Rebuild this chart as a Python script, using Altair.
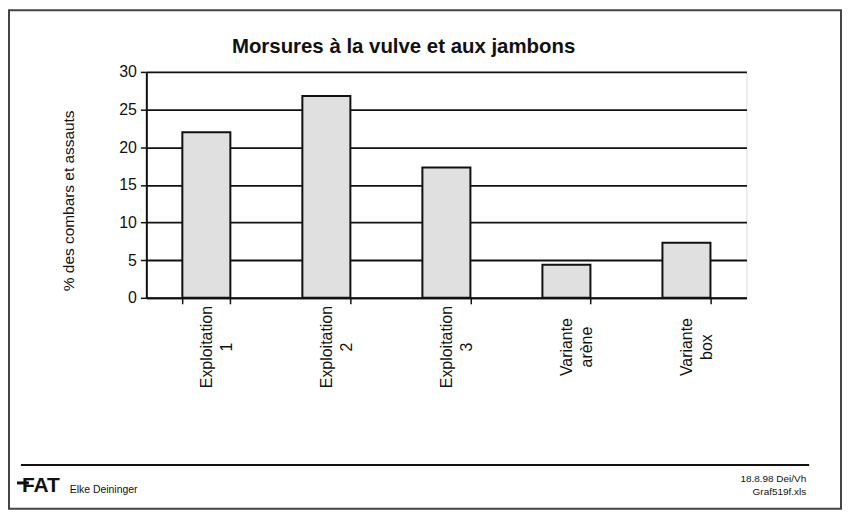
import altair as alt
import pandas as pd

categories = ["Exploitation\n1", "Exploitation\n2", "Exploitation\n3", "Variante\narène", "Variante\nbox"]
values = [22.0, 26.8, 17.3, 4.4, 7.3]
y_ticks = [0, 5, 10, 15, 20, 25, 30]

title_text = "Morsures à la vulve et aux jambons"
y_title = "% des combars et assauts"
footer_left = "Elke Deininger"
footer_logo = "FAT"
footer_right = ["18.8.98 Dei/Vh", "Graf519f.xls"]

FONT = "Liberation Sans"
W, H = 603, 227

df = pd.DataFrame({"cat": categories, "val": values})

x_enc = alt.X(
    "cat:N",
    sort=categories,
    scale=alt.Scale(paddingInner=0.6, paddingOuter=0.3),
    axis=alt.Axis(
        title=None,
        labelAngle=270,
        labelAlign="center",
        labelBaseline="middle",
        labelExpr="split(datum.label, '\\n')",
        labelPadding=43,
        labelFontSize=16,
        labelLineHeight=20,
        labelColor="#111",
        labelFont=FONT,
        tickBand="extent",
        ticks=True,
        tickSize=6,
        tickWidth=1.5,
        tickColor="#111",
        domainColor="#111",
        domainWidth=2,
        grid=False,
    ),
)

y_enc = alt.Y(
    "val:Q",
    scale=alt.Scale(domain=[0, 30], nice=False),
    axis=alt.Axis(
        title=y_title,
        titleFont=FONT,
        titleFontSize=15.5,
        titleFontWeight="normal",
        titleColor="#111",
        titlePadding=42,
        titleY=129,
        values=y_ticks,
        labelFontSize=16,
        labelFont=FONT,
        labelColor="#111",
        labelPadding=4,
        tickSize=6,
        tickWidth=1.5,
        tickColor="#111",
        domainColor="#111",
        domainWidth=2,
        grid=True,
        gridColor="#111",
        gridWidth=1.8,
    ),
)

bars = alt.Chart(df).mark_bar(
    fill="#e0e0e0", stroke="#111", strokeWidth=2
).encode(x=x_enc, y=y_enc)

one = pd.DataFrame({"a": [0]})

title = alt.Chart(pd.DataFrame({"t": [title_text]})).mark_text(
    font=FONT, fontSize=20.5, fontWeight="bold", align="left", baseline="alphabetic",
    color="#111", clip=False
).encode(text="t:N", x=alt.value(86), y=alt.value(-19))

frame = alt.Chart(one).mark_rect(
    fill=None, stroke="#444", strokeWidth=2, clip=False
).encode(
    x=alt.value(-138), x2=alt.value(698), y=alt.value(-62), y2=alt.value(439)
)

footer_rule = alt.Chart(one).mark_rule(
    stroke="#111", strokeWidth=2, clip=False
).encode(
    x=alt.value(-126), x2=alt.value(666), y=alt.value(395)
)

logo = alt.Chart(pd.DataFrame({"t": [footer_logo]})).mark_text(
    font=FONT, fontSize=21, fontWeight="bold", align="left", baseline="alphabetic",
    color="#111", clip=False
).encode(text="t:N", x=alt.value(-125), y=alt.value(422))

logo_bar = alt.Chart(one).mark_rule(
    stroke="#111", strokeWidth=3, clip=False
).encode(x=alt.value(-130), x2=alt.value(-118), y=alt.value(413))

author = alt.Chart(pd.DataFrame({"t": [footer_left]})).mark_text(
    font=FONT, fontSize=10.5, align="left", baseline="alphabetic", color="#111", clip=False
).encode(text="t:N", x=alt.value(-77), y=alt.value(423))

right1 = alt.Chart(pd.DataFrame({"t": [footer_right[0]]})).mark_text(
    font=FONT, fontSize=10, align="right", baseline="alphabetic", color="#111", clip=False
).encode(text="t:N", x=alt.value(663), y=alt.value(412))

right2 = alt.Chart(pd.DataFrame({"t": [footer_right[1]]})).mark_text(
    font=FONT, fontSize=10, align="right", baseline="alphabetic", color="#111", clip=False
).encode(text="t:N", x=alt.value(663), y=alt.value(425))

chart = alt.layer(bars, title, frame, footer_rule, logo, logo_bar, author, right1, right2).properties(
    width=W,
    height=H,
    autosize=alt.AutoSizeParams(type="none"),
    padding={"left": 139, "top": 63, "right": 96, "bottom": 214},
).configure_view(
    stroke="#111", strokeWidth=2
).configure(background="white")

chart.save("out.html", embed_options={"renderer": "svg", "actions": False})
